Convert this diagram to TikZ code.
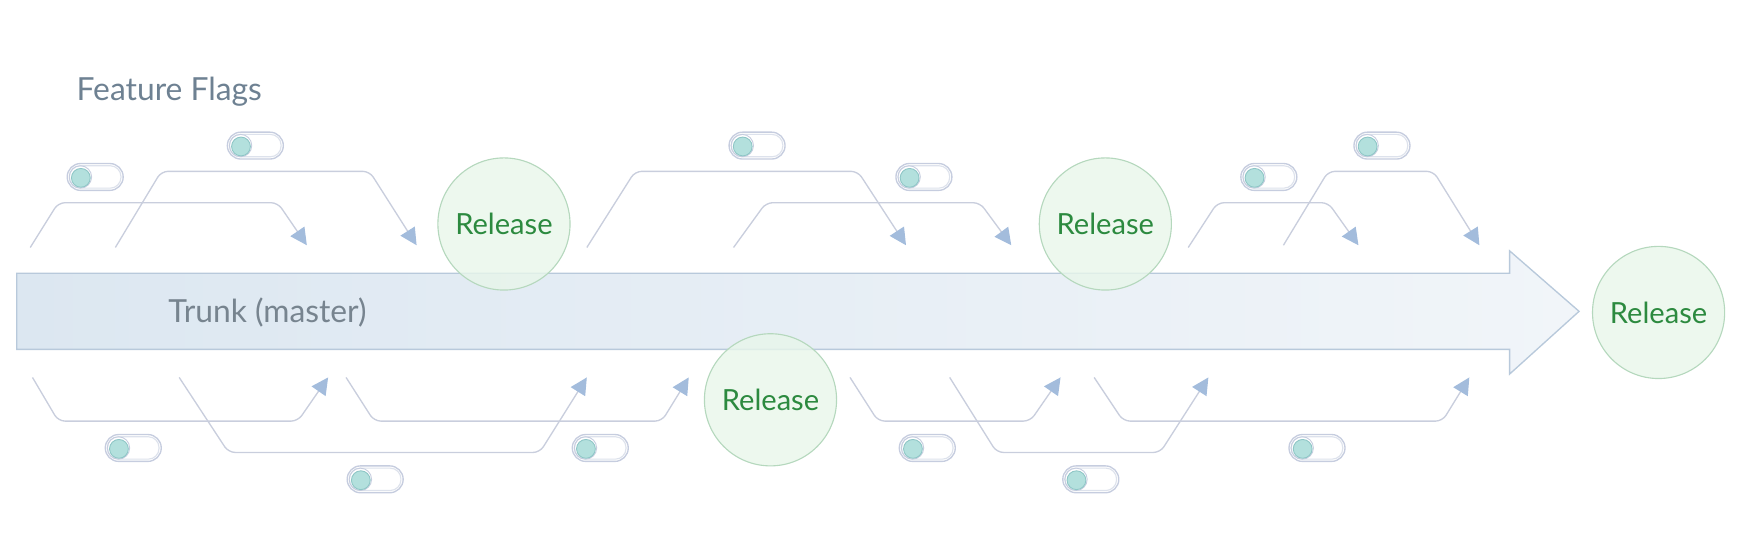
\documentclass[tikz,border=0pt]{standalone}
\usepackage{fontspec}
\setmainfont{Lato}
\usetikzlibrary{arrows.meta}
\definecolor{linec}{HTML}{C9CEDD}
\definecolor{arrc}{HTML}{A3BCDC}
\definecolor{trunkL}{HTML}{DCE7F1}
\definecolor{trunkR}{HTML}{F1F5F9}
\definecolor{trunkB}{HTML}{B8C9DB}
\definecolor{relfill}{HTML}{E8F6EA}
\definecolor{reldraw}{HTML}{B5D8BD}
\definecolor{reltext}{HTML}{2C8A3F}
\definecolor{ffc}{HTML}{6E8192}
\definecolor{trunktext}{HTML}{77848F}
\definecolor{pillc}{HTML}{C6CDDF}
\definecolor{pillin}{HTML}{DDE2EC}
\definecolor{knobc}{HTML}{B3E0DD}
\definecolor{knobd}{HTML}{8EC6C6}
\begin{document}
\begin{tikzpicture}[x=0.5pt,y=-0.5pt,
 conn/.style={draw=linec, line width=0.6pt, rounded corners=3pt, -{Triangle[length=7.5pt,width=7.5pt,color=arrc]}},
 release/.style={circle, draw=reldraw, line width=0.5pt, fill=relfill, fill opacity=0.8, text opacity=1, minimum size=59pt, inner sep=0pt, text=reltext, font=\fontsize{13}{15}\selectfont},
 lbl/.style={font=\fontsize{14.2}{16}\selectfont, inner sep=0pt, anchor=west},
 pill/.style={draw=pillc, line width=0.6pt, rounded corners=6pt, minimum width=25pt, minimum height=12pt, inner sep=0pt, fill=white},
 knob/.style={fill=knobc, draw=knobd, line width=0.4pt},
]
\useasboundingbox (0,0) rectangle (1568,488);

% trunk
\path[left color=trunkL, right color=trunkR, draw=trunkB, line width=0.6pt]
  (15,244) -- (1348,244) -- (1348,224) -- (1410,278) -- (1348,334) -- (1348,312) -- (15,312) -- cycle;
\node[lbl, text=trunktext] (trunk) at (150,279) {Trunk (master)};
\node[lbl, text=ffc] (ff) at (68,82) {Feature Flags};

% connectors
\foreach \n/\sx/\sy/\ax/\ay/\bx/\by/\ex/\ey in {
  t1/27/221/52/181/248/181/274/219,
  t2/103/221/144/153/330/153/372/219,
  t3/524/221/567/153/766/153/809/219,
  t4/655/221/684/181/875/181/903/219,
  t5/1061/221/1087/181/1186/181/1213/219,
  t6/1146/219/1186/153/1280/153/1321/219,
  b1/29/337/52/376/266/376/293/337,
  b2/160/337/204/404/482/404/524/337,
  b3/309/337/334/376/591/376/615/337,
  b4/759/337/784/376/920/376/947/337,
  b5/848/337/890/404/1036/404/1079/337,
  b6/977/337/1003/376/1288/376/1312/337}{
  \coordinate (\n s) at (\sx,\sy);
  \coordinate (\n e) at (\ex,\ey);
  \draw[conn] (\n s) -- (\ax,\ay) -- (\bx,\by) -- (\n e);
}

% release circles
\node[release] (r1) at (450,200) {Release};
\node[release] (r2) at (987,200) {Release};
\node[release] (r3) at (688,357) {Release};
\node[release] (r4) at (1481,279) {Release};

% toggles
\foreach \n/\x/\y in {f1/85/158, f2/228/130, f3/676/130, f4/825/158, f5/1133/158, f6/1234/130,
  g1/119/400, g2/335/428, g3/536/400, g4/828/400, g5/974/428, g6/1176/400}{
  \node[pill] (\n) at (\x,\y) {};
  \draw[pillin, line width=0.5pt, rounded corners=4.8pt] ([xshift=1.3pt,yshift=-1.3pt]\n.north west) rectangle ([xshift=-1.3pt,yshift=1.3pt]\n.south east);
  \draw[pillc, line width=0.4pt] ([xshift=6.2pt]\n.west) circle (5pt);
  \fill[knob] ([xshift=6.4pt,yshift=-0.4pt]\n.west) circle (4.2pt);
}
\end{tikzpicture}
\end{document}
